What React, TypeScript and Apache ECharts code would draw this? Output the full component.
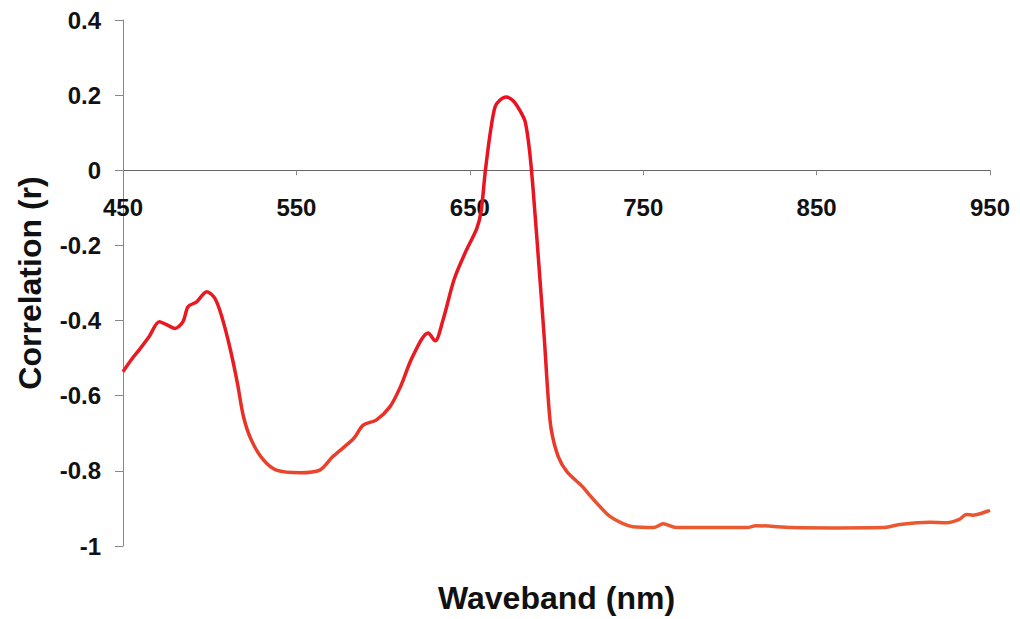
import React, { useEffect, useRef } from "react";
import * as echarts from "echarts";

const waveband: number[] = [
  450, 455, 460, 465, 471, 476, 480, 484.6, 487.5, 492.5, 498.3, 503, 507, 512, 516, 519.5, 524, 531, 538.5,
  552, 563.5, 571, 583, 588.5, 596, 604, 610, 617, 626, 630, 634.5, 641, 648, 654, 656.5, 659, 662, 664.5,
  667, 671, 675, 679, 682, 684.5, 686.5, 690.5, 693, 695.3, 697, 701, 706, 715, 719, 725, 731, 738, 744,
  756, 761.5, 769, 790, 810, 815, 836, 860, 888, 898, 915, 925, 932, 936.5, 940, 949, 950,
];
const correlation: number[] = [
  -0.536, -0.503, -0.474, -0.443, -0.403, -0.413, -0.421, -0.403, -0.363, -0.35, -0.323, -0.341, -0.39,
  -0.479, -0.567, -0.656, -0.718, -0.771, -0.798, -0.805, -0.798, -0.762, -0.714, -0.678, -0.665, -0.629,
  -0.576, -0.496, -0.433, -0.454, -0.399, -0.29, -0.213, -0.155, -0.11, 0.0, 0.106, 0.168, 0.185, 0.195,
  0.185, 0.158, 0.128, 0.05, -0.05, -0.293, -0.45, -0.612, -0.691, -0.762, -0.802, -0.842, -0.864, -0.895,
  -0.922, -0.94, -0.949, -0.951, -0.941, -0.951, -0.951, -0.951, -0.946, -0.951, -0.952, -0.951, -0.943,
  -0.937, -0.938, -0.93, -0.916, -0.918, -0.907, -0.905,
];
const xStart = 450;
const xEnd = 950;
const xStep = 100;
const yMin = -1;
const yMax = 0.4;
const yStep = 0.2;
const xTitle = "Waveband (nm)";
const yTitle = "Correlation (r)";

const FONT = 'Arial, "Liberation Sans", sans-serif';
const GRID_TOP = 20;
const GRID_BOTTOM = 73;
const HEIGHT = 619;

export default function App() {
  const ref = useRef<HTMLDivElement>(null);
  useEffect(() => {
    if (!ref.current) return;
    const chart = echarts.init(ref.current, null, { renderer: "svg" });
    const data = waveband.map((w, i) => [w - xStart, correlation[i]]);
    const gridH = HEIGHT - GRID_TOP - GRID_BOTTOM;
    // move the x axis up so that it sits on y = 0
    const zeroOffset = -gridH * ((0 - yMin) / (yMax - yMin));
    chart.setOption({
      animation: false,
      backgroundColor: "#ffffff",
      grid: {
        left: 123,
        right: 30,
        top: GRID_TOP,
        bottom: GRID_BOTTOM,
        containLabel: false,
        outerBoundsMode: "none",
      },
      xAxis: {
        type: "value",
        min: 0,
        max: xEnd - xStart,
        interval: xStep,
        offset: zeroOffset,
        name: xTitle,
        nameLocation: "middle",
        nameGap: 412,
        nameTextStyle: { fontFamily: FONT, fontWeight: "bold", fontSize: 32, color: "#111" },
        axisLine: { onZero: false, lineStyle: { color: "#666", width: 1 } },
        axisTick: { show: true, length: 5, lineStyle: { color: "#888" } },
        axisLabel: {
          margin: 25,
          fontFamily: FONT,
          fontWeight: "bold",
          fontSize: 24,
          color: "#111",
          formatter: (v: number) => String(v + xStart),
        },
        splitLine: { show: false },
      },
      yAxis: {
        type: "value",
        min: yMin,
        max: yMax,
        interval: yStep,
        name: yTitle,
        nameLocation: "middle",
        nameGap: 77,
        nameRotate: 90,
        nameTextStyle: { fontFamily: FONT, fontWeight: "bold", fontSize: 32, color: "#111" },
        axisLine: { show: true, onZero: false, lineStyle: { color: "#888", width: 1 } },
        axisTick: { show: true, length: 8, lineStyle: { color: "#888" } },
        axisLabel: {
          margin: 22,
          fontFamily: FONT,
          fontWeight: "bold",
          fontSize: 24,
          color: "#111",
          formatter: (v: number) => String(Math.round(v * 10) / 10),
        },
        splitLine: { show: false },
      },
      series: [
        {
          type: "line",
          data,
          showSymbol: false,
          smooth: 0.3,
          lineStyle: {
            width: 3.5,
            color: new echarts.graphic.LinearGradient(0, 0, 0, 1, [
              { offset: 0, color: "#ec1020" },
              { offset: 0.6, color: "#e81a22" },
              { offset: 1, color: "#ea5a30" },
            ]),
          },
        },
      ],
    });
    return () => chart.dispose();
  }, []);
  return (
    <div
      ref={ref}
      style={{ position: "fixed", left: 0, top: 0, width: 1020, height: 619, background: "#fff" }}
    />
  );
}
